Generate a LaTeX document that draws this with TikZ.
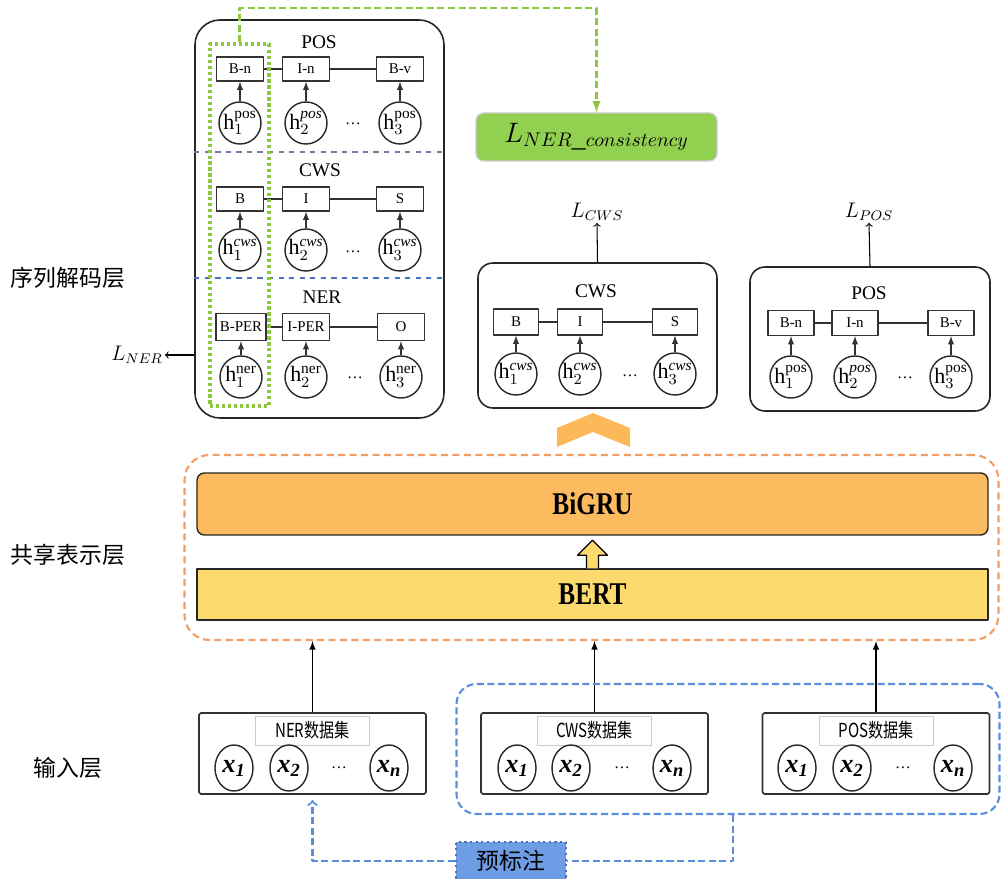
\RequirePackage{fix-cm}
\documentclass[tikz,border=0pt]{standalone}
\usepackage{fontspec}
\setmainfont{Liberation Serif}
\newfontfamily\cjk{Noto Sans CJK SC}
\newfontfamily\cjknarrow[FakeStretch=0.78]{Noto Sans CJK SC}
\newfontfamily\narrowserif[FakeStretch=0.8]{Liberation Serif}
\usetikzlibrary{shapes.geometric}
\definecolor{taskgreen}{RGB}{146,208,80}
\definecolor{linkgreen}{RGB}{141,198,63}
\definecolor{shareorange}{RGB}{240,158,100}
\definecolor{grufill}{RGB}{253,187,95}
\definecolor{bertfill}{RGB}{252,218,110}
\definecolor{chevfill}{RGB}{253,184,90}
\definecolor{preblue}{RGB}{91,143,220}
\definecolor{prefill}{RGB}{110,157,230}
\definecolor{divgray}{RGB}{110,125,160}
\definecolor{divblue}{RGB}{68,114,196}

\newcommand{\hst}[2]{$\mathrm{h}_{#1}^{#2}$}
\newcommand{\xin}[1]{{\bfseries\itshape x\textsubscript{#1}}}

\begin{document}
\begin{tikzpicture}[x=0.2mm, y=-0.2mm, line join=round]
  \tikzstyle{panel}=[draw=black!85, line width=0.9pt, rounded corners=0.3cm, inner sep=0]
  \tikzstyle{tag}=[draw=black!80, line width=0.8pt, minimum width=0.94cm, minimum height=0.48cm,
inner sep=0, font=\fontsize{8.5}{8.5}\selectfont]
  \tikzstyle{hidden}=[circle, draw=black!85, line width=0.8pt, minimum size=0.84cm, inner sep=0,
font=\fontsize{12.5}{12.5}\selectfont]
  \tikzstyle{title}=[font=\fontsize{11}{11}\selectfont]
  \tikzstyle{emit}=[-latex, black!80, line width=0.6pt]
  \tikzstyle{chain}=[black!80, line width=0.8pt]
  \tikzstyle{loss}=[font=\fontsize{12}{12}\selectfont, inner sep=1pt]
  \tikzstyle{layer}=[font=\cjk\fontsize{13}{13}\selectfont]
  \tikzstyle{inbox}=[draw=black!80, line width=0.9pt, rounded corners=1pt, minimum width=4.54cm,
minimum height=1.62cm, inner sep=0]
  \tikzstyle{setname}=[draw=black!20, fill=white, minimum width=2.28cm, minimum height=0.58cm,
inner sep=1pt, font=\cjknarrow\fontsize{11}{11}\selectfont]
  \tikzstyle{token}=[ellipse, draw=black!85, line width=0.8pt, minimum width=0.76cm,
minimum height=0.92cm, inner sep=0, font=\fontsize{15}{15}\selectfont]
  \tikzstyle{dots}=[font=\small]
  \tikzstyle{feed}=[-latex, black, line width=0.7pt]
  \tikzstyle{predash}=[preblue, line width=1.2pt, dash pattern=on 4pt off 2pt]
  \tikzstyle{bar}=[draw=black!85, line width=0.8pt, minimum width=15.82cm,
font=\narrowserif\bfseries\fontsize{18}{18}\selectfont]

  \useasboundingbox (0,0) rectangle (1001,879);

  % layer names on the left
  \node[layer] (declabel)   at (68,278) {序列解码层};
  \node[layer] (sharelabel) at (68,555) {共享表示层};
  \node[layer] (inlabel)    at (68,768) {输入层};

  % decoding panel of the NER model
  \node[panel, rounded corners=0.5cm, minimum width=4.98cm, minimum height=7.96cm] (decpanel) at (319.5,219) {};
  \draw[divgray, dashed, line width=0.7pt] (decpanel.west |- 0,152) -- (decpanel.east |- 0,152);
  \draw[divblue, dashed, line width=0.7pt] (decpanel.west |- 0,278) -- (decpanel.east |- 0,278);

  \node[title] (LP_t) at (319,42) {POS};
  \node[tag] (LP_1) at (240,69) {B-n};
  \node[tag] (LP_2) at (306,69) {I-n};
  \node[tag] (LP_3) at (400,69) {B-v};
  \node[hidden] (LPh_1) at (240,123) {\hst{1}{\mathrm{pos}}};
  \node[hidden] (LPh_2) at (306,123) {\hst{2}{\mathit{pos}}};
  \node[hidden] (LPh_3) at (400,123) {\hst{3}{\mathrm{pos}}};
  \node[dots] (LP_d) at (353,124) {\dots};

  \node[title] (LC_t) at (320,170) {CWS};
  \node[tag] (LC_1) at (240,199) {B};
  \node[tag] (LC_2) at (306,199) {I};
  \node[tag] (LC_3) at (400,199) {S};
  \node[hidden] (LCh_1) at (240,250) {\hst{1}{\mathit{cws}}};
  \node[hidden] (LCh_2) at (306,250) {\hst{2}{\mathit{cws}}};
  \node[hidden] (LCh_3) at (400,250) {\hst{3}{\mathit{cws}}};
  \node[dots] (LC_d) at (353,252) {\dots};

  \node[title] (LN_t) at (322,297) {NER};
  \node[tag, minimum width=1cm, minimum height=0.54cm] (LN_1) at (241,327) {B-PER};
  \node[tag, minimum height=0.54cm] (LN_2) at (306,327) {I-PER};
  \node[tag, minimum height=0.54cm] (LN_3) at (401,327) {O};
  \node[hidden] (LNh_1) at (241,377) {\hst{1}{\mathrm{ner}}};
  \node[hidden] (LNh_2) at (306,377) {\hst{2}{\mathrm{ner}}};
  \node[hidden] (LNh_3) at (401,377) {\hst{3}{\mathrm{ner}}};
  \node[dots] (LN_d) at (355,378) {\dots};

  \draw[chain] (LP_1) -- (LP_2) -- (LP_3);
  \draw[chain] (LC_1) -- (LC_2) -- (LC_3);
  \draw[chain] (LN_1) -- (LN_2) -- (LN_3);
  \draw[emit] (LPh_1) -- (LP_1);
  \draw[emit] (LPh_2) -- (LP_2);
  \draw[emit] (LPh_3) -- (LP_3);
  \draw[emit] (LCh_1) -- (LC_1);
  \draw[emit] (LCh_2) -- (LC_2);
  \draw[emit] (LCh_3) -- (LC_3);
  \draw[emit] (LNh_1) -- (LN_1);
  \draw[emit] (LNh_2) -- (LN_2);
  \draw[emit] (LNh_3) -- (LN_3);

  \node[loss] (lner) at (137,355) {$L_{NER}$};
  \draw[->, line width=0.6pt] (decpanel.west |- lner) -- (lner.east);

  % first position across the three tasks
  \node[draw=linkgreen, line width=1.8pt, dash pattern=on 1.8pt off 1.6pt, minimum width=1.18cm,
minimum height=7.24cm, inner sep=0] (align) at (239.5,225) {};
  \node[draw=black!20, fill=taskgreen, line width=0.8pt, rounded corners=0.16cm, minimum width=4.82cm,
minimum height=0.96cm, font=\fontsize{16}{16}\selectfont] (cons) at (596.5,137) {$L_{NER\_consistency}$};
  \draw[linkgreen, line width=1.2pt, dash pattern=on 4pt off 2pt, -latex] (align.north) -- ++(0,-34) -| (cons.north);

  % CWS decoder
  \node[panel, minimum width=4.78cm, minimum height=2.9cm] (cwspanel) at (597.5,335.5) {};
  \node[title] (C_t) at (596,291) {CWS};
  \node[tag, minimum width=0.9cm, minimum height=0.52cm] (C_1) at (516,322) {B};
  \node[tag, minimum width=0.9cm, minimum height=0.52cm] (C_2) at (580,322) {I};
  \node[tag, minimum width=0.9cm, minimum height=0.52cm] (C_3) at (675,322) {S};
  \node[hidden] (Ch_1) at (516,374) {\hst{1}{\mathit{cws}}};
  \node[hidden] (Ch_2) at (580,374) {\hst{2}{\mathit{cws}}};
  \node[hidden] (Ch_3) at (675,374) {\hst{3}{\mathit{cws}}};
  \node[dots] (C_d) at (630,376) {\dots};
  \draw[chain] (C_1) -- (C_2) -- (C_3);
  \draw[emit] (Ch_1) -- (C_1);
  \draw[emit] (Ch_2) -- (C_2);
  \draw[emit] (Ch_3) -- (C_3);
  \node[loss] (lcws) at (597,212) {$L_{CWS}$};
  \draw[->, line width=0.6pt] (cwspanel.north) -- (lcws.south);

  % POS decoder
  \node[panel, minimum width=4.8cm, minimum height=2.88cm] (pospanel) at (870,339) {};
  \node[title] (P_t) at (869,293) {POS};
  \node[tag, minimum width=0.92cm, minimum height=0.5cm] (P_1) at (791,323) {B-n};
  \node[tag, minimum width=0.92cm, minimum height=0.5cm] (P_2) at (855,323) {I-n};
  \node[tag, minimum width=0.92cm, minimum height=0.5cm] (P_3) at (951,323) {B-v};
  \node[hidden] (Ph_1) at (791,377) {\hst{1}{\mathrm{pos}}};
  \node[hidden] (Ph_2) at (855,377) {\hst{2}{\mathit{pos}}};
  \node[hidden] (Ph_3) at (951,377) {\hst{3}{\mathrm{pos}}};
  \node[dots] (P_d) at (905,378) {\dots};
  \draw[chain] (P_1) -- (P_2) -- (P_3);
  \draw[emit] (Ph_1) -- (P_1);
  \draw[emit] (Ph_2) -- (P_2);
  \draw[emit] (Ph_3) -- (P_3);
  \node[loss] (lpos) at (869,212) {$L_{POS}$};
  \draw[->, line width=0.6pt] (pospanel.north) -- (lpos.south);

  % shared encoder
  \fill[chevfill] (557,447) -- (557,428) -- (593,413) -- (630,428) -- (630,447) -- (593,432) -- cycle;
  \node[draw=shareorange, line width=1.2pt, dash pattern=on 4pt off 2.5pt, rounded corners=0.5cm,
minimum width=16.28cm, minimum height=3.7cm, inner sep=0] (shared) at (591.5,547.5) {};
  \node[bar, fill=grufill, rounded corners=0.15cm, minimum height=1.24cm] (bigru) at (592.5,504) {BiGRU};
  \node[bar, fill=bertfill, minimum height=1.02cm] (bert) at (592.5,594.5) {BERT};
  \filldraw[fill=bertfill, draw=black, line width=0.7pt, shift={(bert.north)}]
    (-6,0) -- (-6,-13) -- (-15,-13) -- (0,-28) -- (15,-13) -- (6,-13) -- (6,0);

  % input data sets
  \node[inbox] (nerin) at (312.5,753.5) {};
  \node[setname] (nerset) at (312.5,730.5) {NER数据集};
  \node[token] (nx_1) at (234,768) {\xin{1}};
  \node[token] (nx_2) at (289,768) {\xin{2}};
  \node[token] (nx_n) at (389,768) {\xin{n}};
  \node[dots] (nx_d) at (339,768) {\dots};

  \node[inbox] (cwsin) at (594.5,753.5) {};
  \node[setname] (cwsset) at (594.5,730.5) {CWS数据集};
  \node[token] (cx_1) at (517,768) {\xin{1}};
  \node[token] (cx_2) at (571,768) {\xin{2}};
  \node[token] (cx_n) at (672,768) {\xin{n}};
  \node[dots] (cx_d) at (622,768) {\dots};

  \node[inbox] (posin) at (876,753.5) {};
  \node[setname] (posset) at (876,730.5) {POS数据集};
  \node[token] (px_1) at (797,768) {\xin{1}};
  \node[token] (px_2) at (852,768) {\xin{2}};
  \node[token] (px_n) at (953,768) {\xin{n}};
  \node[dots] (px_d) at (903,768) {\dots};

  \draw[feed] (nerin.north) -- (nerin.north |- shared.south);
  \draw[feed] (cwsin.north) -- (cwsin.north |- shared.south);
  \draw[feed] (posin.north) -- (posin.north |- shared.south);

  % pre-annotation of the NER data
  \node[predash, rounded corners=0.4cm, draw, minimum width=10.86cm, minimum height=2.6cm, inner sep=0]
    (pregroup) at (728,749) {};
  \node[draw=preblue!80!black, fill=prefill, line width=1.2pt, dotted, minimum width=2.2cm,
minimum height=0.76cm, font=\cjk\fontsize{13}{13}\selectfont] (prelabel) at (511,861) {预标注};
  \draw[predash] (pregroup.south) ++(5,0) |- (prelabel.east);
  \draw[predash, ->, shorten >=3pt] (prelabel.west) -| (nerin.south);
\end{tikzpicture}
\end{document}
